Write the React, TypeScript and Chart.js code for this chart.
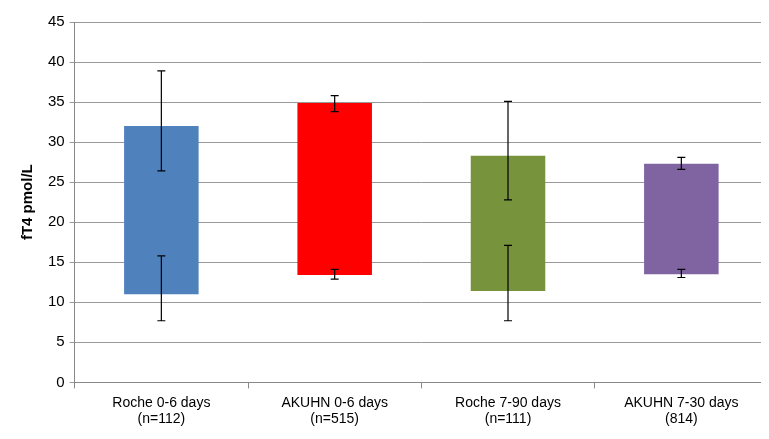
import React, { useEffect, useRef } from "react";
import { Chart, registerables } from "chart.js";
Chart.register(...registerables);

const categories = [["Roche 0-6 days", "(n=112)"], ["AKUHN 0-6 days", "(n=515)"], ["Roche 7-90 days", "(n=111)"], ["AKUHN 7-30 days", "(814)"]];
const lows = [11, 13.4, 11.4, 13.5];
const highs = [32, 34.9, 28.3, 27.3];
const upperErr = [[26.4, 38.9], [33.8, 35.8], [22.8, 35.1], [26.6, 28.1]];
const lowerErr = [[7.7, 15.8], [12.9, 14.1], [7.7, 17.1], [13.1, 14.1]];
const colors = ["#4F81BD", "#FF0000", "#77933C", "#8064A2"];

const errPlugin = {
  id: "err",
  afterDatasetsDraw(chart: any) {
    const ctx = chart.ctx;
    const y = chart.scales.y;
    const meta = chart.getDatasetMeta(0);
    ctx.save();
    ctx.strokeStyle = "#000";
    ctx.lineWidth = 1.2;
    meta.data.forEach((bar: any, i: number) => {
      [upperErr[i], lowerErr[i]].forEach(([a, b]) => {
        const ya = y.getPixelForValue(a), yb = y.getPixelForValue(b);
        ctx.beginPath();
        ctx.moveTo(bar.x, ya); ctx.lineTo(bar.x, yb);
        ctx.moveTo(bar.x - 4, ya); ctx.lineTo(bar.x + 4, ya);
        ctx.moveTo(bar.x - 4, yb); ctx.lineTo(bar.x + 4, yb);
        ctx.stroke();
      });
    });
    ctx.restore();
  },
};

export default function App() {
  const ref = useRef<HTMLCanvasElement>(null);
  useEffect(() => {
    const chart = new Chart(ref.current!, {
      type: "bar",
      data: {
        labels: categories as any,
        datasets: [{ data: lows.map((l, i) => [l, highs[i]]) as any, backgroundColor: colors, barPercentage: 0.43, categoryPercentage: 1 }],
      },
      options: {
        animation: false, responsive: false,
        layout: { padding: { top: 9, right: 1, left: 5, bottom: 5 } },
        plugins: { legend: { display: false }, tooltip: { enabled: false } },
        scales: {
          x: {
            grid: { offset: true, drawOnChartArea: false, color: "#888", tickLength: 6 },
            border: { color: "#888" },
            ticks: { color: "#000", padding: 6, font: { family: "Liberation Sans, Arial", size: 14 } },
          },
          y: {
            min: 0, max: 45,
            ticks: { stepSize: 5, color: "#000", padding: 5, font: { family: "Liberation Sans, Arial", size: 15 } },
            grid: { color: "#999", tickLength: 5 },
            border: { color: "#888" },
            title: { display: true, text: "fT4 pmol/L", color: "#000", padding: 6, font: { family: "Liberation Sans, Arial", size: 15, weight: "bold" } },
          },
        },
      },
      plugins: [errPlugin],
    });
    return () => chart.destroy();
  }, []);
  return <canvas ref={ref} width={761} height={431} />;
}
